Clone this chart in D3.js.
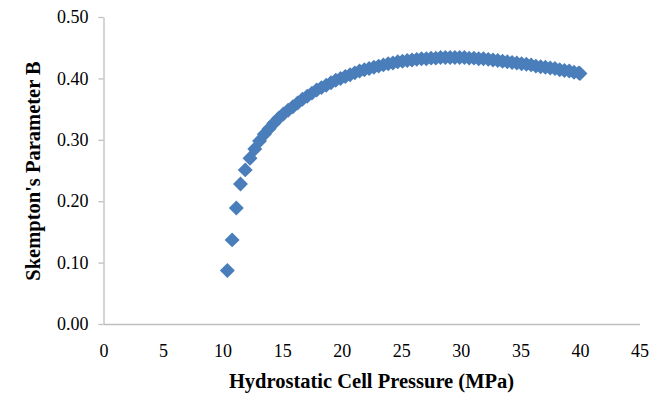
<!DOCTYPE html>
<html>
<head>
<meta charset="utf-8">
<script src="https://cdn.jsdelivr.net/npm/d3@7"></script>
<style>
  body { margin: 0; background: #fff; }
  svg text { font-family: "Liberation Serif", "Times New Roman", serif; fill: #000; }
</style>
</head>
<body>
<svg id="chart" width="662" height="394"></svg>
<script>
// cell pressure (MPa) and Skempton's B
var pressure = [10.4, 10.8, 11.15, 11.5, 11.9, 12.3, 12.7, 13.1, 13.5, 13.9, 14.3, 14.7, 15.1, 15.5, 15.9,
    16.3, 16.7, 17.1, 17.5, 17.9, 18.3, 18.7, 19.1, 19.5, 19.9, 20.3, 20.7, 21.1, 21.5, 21.9,
    22.3, 22.7, 23.1, 23.5, 23.9, 24.3, 24.7, 25.1, 25.5, 25.9, 26.3, 26.7, 27.1, 27.5, 27.9,
    28.3, 28.7, 29.1, 29.5, 29.9, 30.3, 30.7, 31.1, 31.5, 31.9, 32.3, 32.7, 33.1, 33.5, 33.9,
    34.3, 34.7, 35.1, 35.5, 35.9, 36.3, 36.7, 37.1, 37.5, 37.9, 38.3, 38.7, 39.1, 39.5, 39.9, 40.0];
var paramB = [0.087, 0.137, 0.189, 0.228, 0.251, 0.270, 0.285, 0.298, 0.309, 0.318, 0.327, 0.335, 0.342, 0.348, 0.354,
    0.360, 0.366, 0.371, 0.376, 0.381, 0.385, 0.389, 0.393, 0.397, 0.400, 0.403, 0.406, 0.409, 0.412, 0.414,
    0.416, 0.418, 0.420, 0.422, 0.424, 0.425, 0.427, 0.428, 0.429, 0.430, 0.431, 0.432, 0.432, 0.433, 0.433,
    0.434, 0.434, 0.434, 0.434, 0.434, 0.434, 0.433, 0.433, 0.432, 0.432, 0.431, 0.430, 0.429, 0.428, 0.427,
    0.426, 0.425, 0.424, 0.423, 0.422, 0.420, 0.419, 0.418, 0.417, 0.416, 0.414, 0.413, 0.412, 0.410, 0.409, 0.408];
var xTicks = [0, 5, 10, 15, 20, 25, 30, 35, 40, 45];
var yTicks = [0, 0.1, 0.2, 0.3, 0.4, 0.5];

var svg = d3.select("#chart");
var plotLeft = 103.5, plotRight = 639.5, plotTop = 17, plotBottom = 324;

var x = d3.scaleLinear().domain([0, 45]).range([plotLeft, plotRight]);
var y = d3.scaleLinear().domain([0, 0.5]).range([plotBottom, plotTop]);

/*===== axes =====*/
var yAxis = svg.append("g")
    .attr("transform", "translate(" + plotLeft + ",0)")
    .call(d3.axisLeft(y).tickValues(yTicks).tickFormat(d3.format(".2f")).tickSize(5).tickSizeOuter(0).tickPadding(10));
yAxis.select(".domain").attr("stroke", "#bfbfbf").attr("stroke-width", 1.3);
yAxis.selectAll(".tick line").attr("stroke", "#bfbfbf").attr("stroke-width", 1.3);
yAxis.selectAll(".tick text").style("font-size", "18px").attr("fill", "#000");

var xAxis = svg.append("g")
    .attr("transform", "translate(0," + plotBottom + ")")
    .call(d3.axisBottom(x).tickValues(xTicks).tickFormat(d3.format("d")).tickSize(0).tickPadding(20));
xAxis.select(".domain").attr("stroke", "#bfbfbf").attr("stroke-width", 1.3);
xAxis.selectAll(".tick text").style("font-size", "18px").attr("fill", "#000");

/*===== titles =====*/
svg.append("text")
    .attr("x", (plotLeft + plotRight) / 2)
    .attr("y", 388)
    .attr("text-anchor", "middle")
    .style("font-size", "20.5px")
    .style("font-weight", "bold")
    .text("Hydrostatic Cell Pressure (MPa)");

svg.append("text")
    .attr("transform", "translate(40," + 171 + ") rotate(-90)")
    .attr("text-anchor", "middle")
    .style("font-size", "20.5px")
    .style("font-weight", "bold")
    .text("Skempton's Parameter B");

/*===== diamond markers =====*/
var diamond = d3.symbol().type(d3.symbolSquare).size(112);
svg.append("g")
    .selectAll("path")
    .data(d3.range(pressure.length))
    .enter()
    .append("path")
    .attr("d", diamond)
    .attr("transform", function (i) {
        return "translate(" + x(pressure[i]) + "," + y(paramB[i]) + ") rotate(45)";
    })
    .attr("fill", "#4a7ebb");
</script>
</body>
</html>
